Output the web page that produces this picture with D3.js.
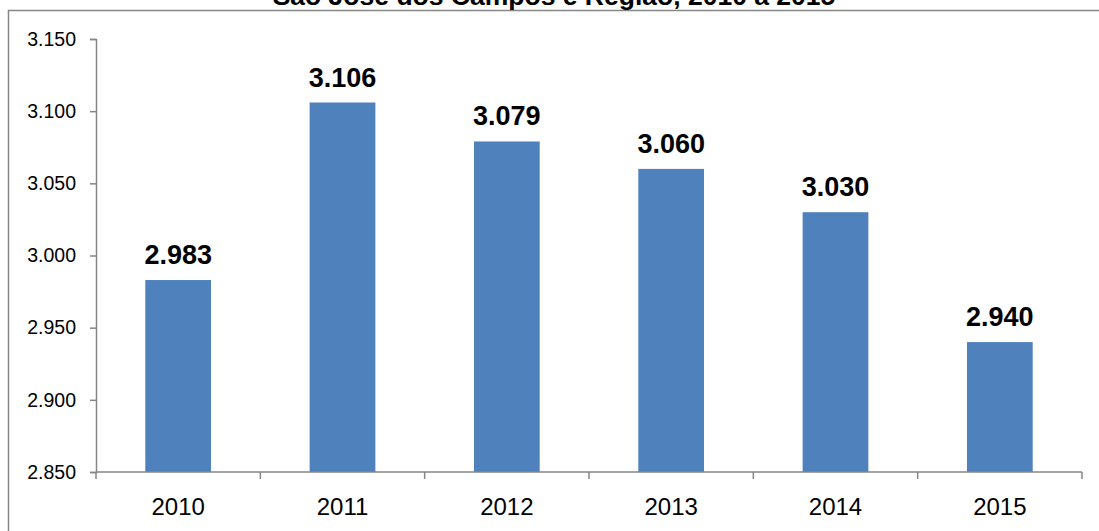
<!DOCTYPE html>
<html>
<head>
  <meta charset="UTF-8" />
  <title>Chart</title>
  <script src="https://d3js.org/d3.v7.min.js"></script>
  <style>
    body { margin: 0; background: #fff; }
    text { font-family: "Liberation Sans", Arial, sans-serif; }
  </style>
</head>
<body>
  <div id="chart"></div>
  <script>
    // data
    const years = ["2010", "2011", "2012", "2013", "2014", "2015"];
    const values = [2983, 3106, 3079, 3060, 3030, 2940];
    const yTicks = [2850, 2900, 2950, 3000, 3050, 3100, 3150];
    const title = "São José dos Campos e Região, 2010 a 2015";

    const width = 1099, height = 531;
    const plotLeft = 96, plotRight = 1082, plotTop = 39, plotBottom = 472;

    const svg = d3.select("#chart")
      .append("svg")
      .attr("width", width)
      .attr("height", height);

    // outer border (only top and left visible)
    svg.append("rect")
      .attr("x", 8.5)
      .attr("y", 10.5)
      .attr("width", 1200)
      .attr("height", 700)
      .attr("fill", "none")
      .attr("stroke", "#878787")
      .attr("stroke-width", 1.5);

    // title, cut off at the top like in the source
    svg.append("text")
      .attr("x", 554)
      .attr("y", 5)
      .attr("text-anchor", "middle")
      .attr("font-size", 26.5)
      .attr("font-weight", "bold")
      .text(title);

    const x = d3.scaleBand()
      .domain(years)
      .range([plotLeft, plotRight])
      .paddingInner(0.6)
      .paddingOuter(0.3);

    const y = d3.scaleLinear()
      .domain([2850, 3150])
      .range([plotBottom, plotTop]);

    // y axis
    const yAxis = d3.axisLeft(y)
      .tickValues(yTicks)
      .tickSize(6)
      .tickPadding(14)
      .tickFormat(d => d3.format(".3f")(d / 1000));

    const gy = svg.append("g")
      .attr("transform", "translate(" + plotLeft + ",0)")
      .call(yAxis);
    gy.select(".domain").attr("stroke", "#868686").attr("stroke-width", 1.5);
    gy.selectAll(".tick line").attr("stroke", "#868686").attr("stroke-width", 1.5);
    gy.selectAll(".tick text")
      .attr("font-size", 19.5)
      .attr("fill", "#000")
      .style("font-family", "'Liberation Sans', Arial, sans-serif");

    // bars
    svg.selectAll("rect.bar")
      .data(values)
      .enter()
      .append("rect")
      .attr("class", "bar")
      .attr("x", (d, i) => x(years[i]))
      .attr("y", d => y(d))
      .attr("width", x.bandwidth())
      .attr("height", d => plotBottom - y(d))
      .attr("fill", "#4F81BD");

    // x axis line
    svg.append("line")
      .attr("x1", plotLeft)
      .attr("x2", plotRight)
      .attr("y1", plotBottom)
      .attr("y2", plotBottom)
      .attr("stroke", "#868686")
      .attr("stroke-width", 1.5);

    // x tick marks at category boundaries
    const boundaries = years.map(c => x(c) - x.step() * x.paddingOuter()).concat([plotRight]);
    svg.selectAll("line.xtick")
      .data(boundaries)
      .enter()
      .append("line")
      .attr("class", "xtick")
      .attr("x1", d => d)
      .attr("x2", d => d)
      .attr("y1", plotBottom)
      .attr("y2", plotBottom + 7)
      .attr("stroke", "#868686")
      .attr("stroke-width", 1.5);

    // x labels
    svg.selectAll("text.xlabel")
      .data(years)
      .enter()
      .append("text")
      .attr("class", "xlabel")
      .attr("x", d => x(d) + x.bandwidth() / 2)
      .attr("y", 515)
      .attr("text-anchor", "middle")
      .attr("font-size", 24)
      .text(d => d);

    // value labels
    svg.selectAll("text.value")
      .data(values)
      .enter()
      .append("text")
      .attr("class", "value")
      .attr("x", (d, i) => x(years[i]) + x.bandwidth() / 2)
      .attr("y", d => y(d) - 16)
      .attr("text-anchor", "middle")
      .attr("font-size", 27)
      .attr("font-weight", "bold")
      .text(d => d3.format(".3f")(d / 1000));
  </script>
</body>
</html>
